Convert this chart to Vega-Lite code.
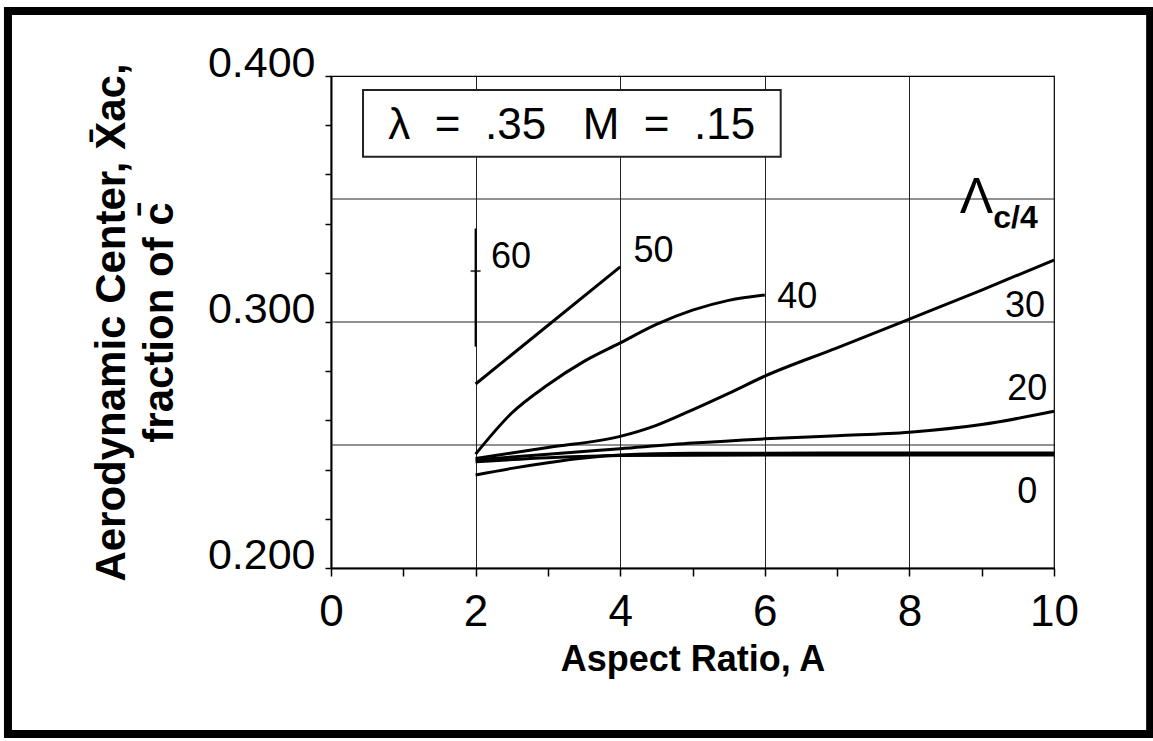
{
  "$schema": "https://vega.github.io/schema/vega-lite/v6.json",
  "autosize": {"type": "none"},
  "padding": {"left": 331, "top": 76, "right": 99, "bottom": 173},
  "width": 723,
  "height": 492,
  "background": "white",
  "config": {
    "font": "Liberation Sans",
    "view": {"stroke": "black", "strokeWidth": 1.2},
    "axis": {"domainColor": "black", "domainWidth": 2, "tickColor": "black", "tickWidth": 1.5, "labelColor": "black", "titleColor": "black", "gridColor": "#222", "gridWidth": 1, "labelFlush": false}
  },
  "datasets": {
    "curves": [
      {"sweep": "50", "A": 2, "xac": 0.2748}, {"sweep": "50", "A": 4, "xac": 0.3224},
      {"sweep": "40", "A": 2, "xac": 0.2463}, {"sweep": "40", "A": 2.5, "xac": 0.2630}, {"sweep": "40", "A": 3, "xac": 0.2745}, {"sweep": "40", "A": 3.5, "xac": 0.2840}, {"sweep": "40", "A": 4, "xac": 0.2915}, {"sweep": "40", "A": 4.5, "xac": 0.2990}, {"sweep": "40", "A": 5, "xac": 0.3048}, {"sweep": "40", "A": 5.5, "xac": 0.3088}, {"sweep": "40", "A": 6, "xac": 0.3110},
      {"sweep": "30", "A": 2, "xac": 0.2445}, {"sweep": "30", "A": 3, "xac": 0.2490}, {"sweep": "30", "A": 4, "xac": 0.2535}, {"sweep": "30", "A": 4.5, "xac": 0.2580}, {"sweep": "30", "A": 5, "xac": 0.2643}, {"sweep": "30", "A": 5.5, "xac": 0.2710}, {"sweep": "30", "A": 6, "xac": 0.2780}, {"sweep": "30", "A": 7, "xac": 0.2895}, {"sweep": "30", "A": 8, "xac": 0.3012}, {"sweep": "30", "A": 9, "xac": 0.3130}, {"sweep": "30", "A": 10, "xac": 0.3252},
      {"sweep": "20", "A": 2, "xac": 0.2440}, {"sweep": "20", "A": 3, "xac": 0.2462}, {"sweep": "20", "A": 4, "xac": 0.2485}, {"sweep": "20", "A": 5, "xac": 0.2508}, {"sweep": "20", "A": 6, "xac": 0.2525}, {"sweep": "20", "A": 7, "xac": 0.2538}, {"sweep": "20", "A": 8, "xac": 0.2552}, {"sweep": "20", "A": 9, "xac": 0.2583}, {"sweep": "20", "A": 10, "xac": 0.2637},
      {"sweep": "10", "A": 2, "xac": 0.2432}, {"sweep": "10", "A": 3, "xac": 0.2448}, {"sweep": "10", "A": 4, "xac": 0.2457}, {"sweep": "10", "A": 6, "xac": 0.2459}, {"sweep": "10", "A": 8, "xac": 0.2459}, {"sweep": "10", "A": 10, "xac": 0.2459},
      {"sweep": "0", "A": 2, "xac": 0.2378}, {"sweep": "0", "A": 2.5, "xac": 0.2405}, {"sweep": "0", "A": 3, "xac": 0.2428}, {"sweep": "0", "A": 3.5, "xac": 0.2447}, {"sweep": "0", "A": 4, "xac": 0.2459}, {"sweep": "0", "A": 5, "xac": 0.2466}, {"sweep": "0", "A": 7, "xac": 0.2467}, {"sweep": "0", "A": 10, "xac": 0.2467}
    ],
    "labels": [
      {"text": "60", "A": 2.49, "xac": 0.3220},
      {"text": "50", "A": 4.46, "xac": 0.3244},
      {"text": "40", "A": 6.45, "xac": 0.3057},
      {"text": "30", "A": 9.60, "xac": 0.3020},
      {"text": "20", "A": 9.63, "xac": 0.2683},
      {"text": "0", "A": 9.63, "xac": 0.2264}
    ],
    "hgrid": [{"xac": 0.25}, {"xac": 0.30}, {"xac": 0.35}]
  },
  "layer": [
    {
      "data": {"values": [{}]},
      "mark": {"type": "rect", "filled": false, "stroke": "black", "strokeWidth": 8, "clip": false},
      "encoding": {
        "x": {"datum": -4.468, "type": "quantitative", "scale": {"domain": [0, 10], "nice": false, "zero": false},
          "axis": {
            "values": [0, 1, 2, 3, 4, 5, 6, 7, 8, 9, 10],
            "labelExpr": "datum.value % 2 == 0 ? format(datum.value, 'd') : ''",
            "labelFontSize": 44, "labelPadding": 14, "tickSize": 8,
            "grid": true,
            "gridOpacity": {"condition": {"test": "datum.value == 2 || datum.value == 4 || datum.value == 6 || datum.value == 8", "value": 1}, "value": 0},
            "title": "Aspect Ratio, A", "titleFontSize": 36, "titleFontWeight": "bold", "titlePadding": 8
          }},
        "x2": {"datum": 11.33},
        "y": {"datum": 0.4264, "type": "quantitative", "scale": {"domain": [0.2, 0.4], "nice": false, "zero": false},
          "axis": {
            "values": [0.2, 0.21, 0.22, 0.23, 0.24, 0.25, 0.26, 0.27, 0.28, 0.29, 0.3, 0.31, 0.32, 0.33, 0.34, 0.35, 0.36, 0.37, 0.38, 0.39, 0.4],
            "labelExpr": "datum.value == 0.2 || datum.value == 0.3 || datum.value == 0.4 ? format(datum.value, '.3f') : ''",
            "labelFontSize": 43, "labelBaseline": "alphabetic", "labelPadding": 10, "tickSize": 6,
            "grid": false,
            "title": ["Aerodynamic Center, X̄ac,", "fraction of c̄"], "titleFontSize": 42, "titleFontWeight": "bold", "titleLineHeight": 48, "titlePadding": 26
          }},
        "y2": {"datum": 0.1325}
      }
    },
    {
      "data": {"name": "hgrid"},
      "mark": {"type": "rule", "color": "#222", "strokeWidth": 1},
      "encoding": {
        "y": {"field": "xac", "type": "quantitative"}
      }
    },
    {
      "data": {"values": [{}]},
      "mark": {"type": "rect", "fill": "white", "stroke": "#222", "strokeWidth": 2},
      "encoding": {
        "x": {"datum": 0.443, "type": "quantitative"},
        "x2": {"datum": 6.22},
        "y": {"datum": 0.3943, "type": "quantitative"},
        "y2": {"datum": 0.3672}
      }
    },
    {
      "data": {"values": [{}]},
      "mark": {"type": "text", "text": "λ \u00a0= \u00a0.35 \u00a0 M \u00a0= \u00a0.15", "fontSize": 44, "align": "center", "baseline": "alphabetic", "color": "black"},
      "encoding": {
        "x": {"datum": 3.33, "type": "quantitative"},
        "y": {"datum": 0.3744, "type": "quantitative"}
      }
    },
    {
      "data": {"name": "curves"},
      "mark": {"type": "line", "color": "black", "strokeWidth": 3, "interpolate": "monotone"},
      "encoding": {
        "x": {"field": "A", "type": "quantitative"},
        "y": {"field": "xac", "type": "quantitative"},
        "detail": {"field": "sweep", "type": "nominal"}
      }
    },
    {
      "data": {"values": [{}]},
      "mark": {"type": "rule", "color": "black", "strokeWidth": 2},
      "encoding": {
        "x": {"datum": 2, "type": "quantitative"},
        "y": {"datum": 0.290, "type": "quantitative"},
        "y2": {"datum": 0.338}
      }
    },
    {
      "data": {"values": [{}]},
      "mark": {"type": "tick", "orient": "horizontal", "color": "black", "size": 10, "thickness": 2},
      "encoding": {
        "x": {"datum": 2, "type": "quantitative"},
        "y": {"datum": 0.3207, "type": "quantitative"}
      }
    },
    {
      "data": {"name": "labels"},
      "mark": {"type": "text", "fontSize": 36, "align": "center", "baseline": "alphabetic", "color": "black"},
      "encoding": {
        "x": {"field": "A", "type": "quantitative"},
        "y": {"field": "xac", "type": "quantitative"},
        "text": {"field": "text", "type": "nominal"}
      }
    },
    {
      "data": {"values": [{}]},
      "mark": {"type": "text", "text": "Λ", "fontSize": 50, "align": "right", "baseline": "alphabetic", "color": "black"},
      "encoding": {
        "x": {"datum": 9.16, "type": "quantitative"},
        "y": {"datum": 0.3443, "type": "quantitative"}
      }
    },
    {
      "data": {"values": [{}]},
      "mark": {"type": "text", "text": "c/4", "fontSize": 32, "fontWeight": "bold", "align": "left", "baseline": "alphabetic", "color": "black"},
      "encoding": {
        "x": {"datum": 9.16, "type": "quantitative"},
        "y": {"datum": 0.3382, "type": "quantitative"}
      }
    }
  ]
}
